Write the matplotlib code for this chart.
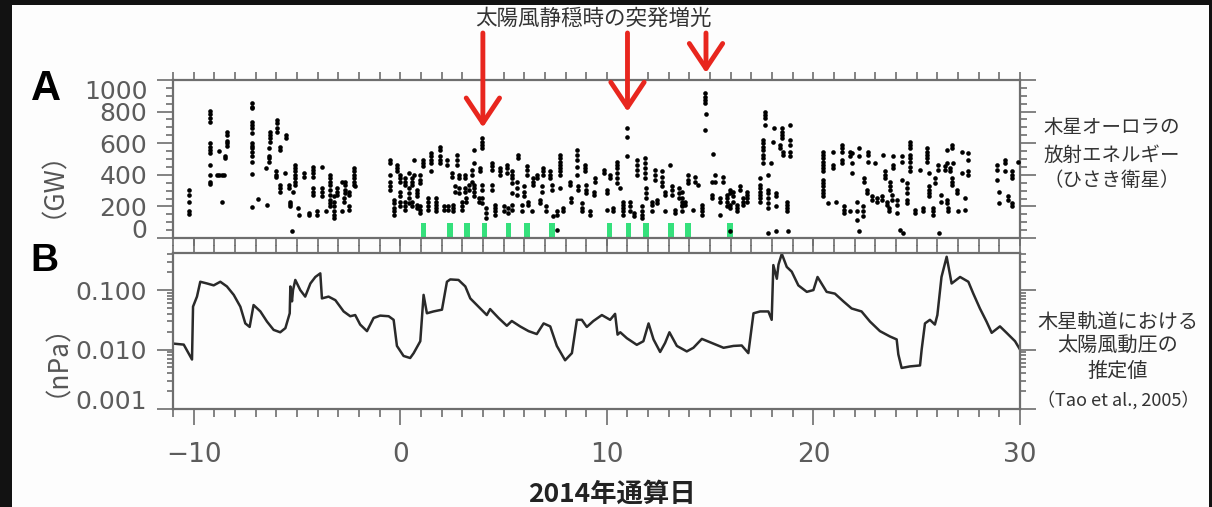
import matplotlib
matplotlib.use('Agg')
import matplotlib.pyplot as plt
import numpy as np
from matplotlib.patches import Rectangle
from matplotlib.ticker import MultipleLocator, LogLocator, NullFormatter

# ---------------- data ----------------
# Panel A: Jupiter aurora radiated power (GW), grouped as columns (day, values)
aurora_col_days = [
    -10.21, -9.19, -8.85, -8.75, -8.65, -8.55, -8.79, -8.63, -8.5, -8.4,
    -7.18, -7.2, -6.9, -6.5, -6.47, -6.35, -6.29, -6.0, -5.97, -5.8,
    -5.6, -5.52, -5.4, -5.36, -5.24, -5.2, -5.08, -4.97, -4.9, -4.68,
    -4.43, -4.22, -4.03, -3.8, -3.78, -3.6, -3.39, -3.23, -3.06, -2.82,
    -2.74, -2.66, -2.5, -2.26, -2.2,
    -0.52, -0.32, -0.16, -0.03, 0.0, 0.24, 0.4, 0.57, 0.68, 0.81,
    0.97, 1.1, 1.32, 1.48, 1.74, 1.94, 2.1, 2.26, 2.3, 2.5,
    2.55, 2.66, 2.74, 2.82, 2.98, 3.14, 3.2, 3.35, 3.47, 3.58,
    3.79, 3.87, 3.95, 4.16, 4.44, 4.6, 4.84, 5.0, 5.16, 5.2,
    5.4, 5.65, 5.69, 5.89, 5.97, 6.13, 6.2, 6.37, 6.45, 6.6,
    6.77, 6.85, 6.93, 7.06, 7.26, 7.35, 7.4, 7.58, 7.71, 7.9,
    8.2, 8.25, 8.55, 8.6, 8.79, 8.95, 9.0, 9.2, 9.36, 9.44,
    9.84, 10.0, 10.16, 10.32, 10.48, 10.64, 10.8, 10.97, 11.1, 11.3,
    11.45, 11.69, 11.85, 11.9, 12.18, 12.34, 12.42, 12.66, 12.82, 13.06,
    13.14, 13.3, 13.47, 13.63, 13.79, 13.95, 14.19, 14.27, 14.43, 14.6,
    14.76, 14.8, 15.1, 15.16, 15.24, 15.48, 15.64, 15.8, 15.97, 16.13,
    16.29, 16.45, 16.61, 16.77,
    17.42, 17.58, 17.66, 17.8, 17.82, 17.95, 18.06, 18.1, 18.2, 18.38,
    18.46, 18.55, 18.7, 18.78, 18.87,
    20.45, 20.48, 20.7, 20.97, 21.1, 21.37, 21.5, 21.77, 21.85, 22.1,
    22.2, 22.22, 22.4, 22.45, 22.58, 22.66, 22.84, 22.98, 23.06, 23.3,
    23.38, 23.47, 23.55, 23.67, 23.71, 23.79, 23.87, 24.03, 24.19, 24.27,
    24.35, 24.51, 24.68, 24.92, 25.16, 25.32, 25.51, 25.6, 25.77, 25.88,
    26.04, 26.1, 26.2, 26.37, 26.45, 26.53, 26.61, 26.69, 26.77, 26.93,
    27.0, 27.17, 27.33, 27.49,
    28.87, 29.0, 29.27, 29.43, 29.6, 29.9,
]
aurora_col_gw = [
    [305, 272, 231, 168, 152], [804, 783, 758, 736, 600, 579, 558, 537, 463, 400, 357, 341],
    [400], [400], [400], [400], [551], [227], [516, 505], [669, 652, 614, 600, 585],
    [853, 831, 821, 736, 716, 695, 663, 600, 585, 568, 543, 516, 484, 404], [196], [248], [442], [210],
    [568, 516, 505, 484], [673, 652, 632, 610], [421, 400, 389], [747, 726, 695, 673], [579, 558, 337, 316, 294],
    [410], [652, 632], [337, 316], [231, 215, 200], [42], [294], [463, 442, 421, 400, 379, 357, 337],
    [189], [147], [410, 389],
    [158, 147], [452, 431, 410, 389, 316, 294, 273], [168, 147], [452], [316, 294, 263], [168],
    [400, 379, 357, 337, 305, 273, 242, 221, 200], [263, 231, 200, 168, 147, 126], [316, 294, 273], [357, 168],
    [253, 231], [357, 337, 305, 284], [294, 273, 200, 179], [442, 421, 400, 379, 357, 337], [326],
    [495, 474, 400, 357, 326, 305], [242, 221, 189, 168, 147], [463, 442, 421], [400, 379, 357],
    [294, 263, 231, 200], [379, 357, 337, 231, 200, 179], [410, 316, 284, 253, 221], [379, 357, 337, 231, 200],
    [495, 400], [305, 284, 263, 210, 189],
    [400, 368, 347, 200, 179, 158], [495, 474, 453], [253, 231, 200, 179], [537, 516, 495, 474, 421],
    [253, 231, 210, 189, 168], [579, 558, 516, 495, 474], [200, 179], [495, 463], [200, 179], [410, 389],
    [210, 189, 168], [326, 294], [526, 495, 463], [400, 379, 316, 284], [231, 200, 179], [400, 379, 316, 294],
    [253, 231], [337, 305], [431, 400, 357], [558, 474, 337, 316, 294, 263],
    [253, 231], [442, 421], [632, 610, 589, 568, 337, 305, 253, 221], [189, 158, 126], [474, 453, 431, 337, 305],
    [210, 189, 168, 147], [442, 421, 400], [200, 168], [463, 442, 410], [189, 158],
    [421, 400, 379, 347, 284, 210, 179], [357, 316, 273], [526, 505], [210, 168], [326, 294, 263],
    [453, 431, 400], [231, 210], [168], [379, 357, 337], [400, 379],
    [242, 221], [326, 294], [442, 421, 400], [200, 168], [421, 400, 379], [337, 305], [137], [168, 147, 52],
    [526, 505, 484, 463, 442, 421, 400, 316], [189, 168],
    [357, 337], [253, 231], [558, 526, 495, 452, 400], [326, 305], [221, 189, 168], [463, 442, 421],
    [337, 305, 284], [168, 147], [294, 273], [379, 357],
    [431, 410], [305, 284, 179], [400, 379], [189, 168], [484, 463, 442, 410, 379, 347], [316],
    [231, 210, 189, 168, 147], [695, 642, 516], [231, 200, 168], [158, 137],
    [495, 463, 431, 400], [200, 168, 147, 126], [505, 474, 442, 410, 379], [316, 284, 253], [231, 210, 168],
    [431, 400, 368], [242, 221], [421, 389, 357, 326], [294, 273, 168], [463],
    [326, 305, 273], [179, 158], [316, 284, 253], [294, 253, 231, 210, 200, 168], [231, 210], [400, 368, 347],
    [179], [389, 357], [337], [210, 189, 168, 147],
    [916, 894, 873, 853, 684], [783], [357, 273, 253], [532], [400, 357], [253, 231, 147], [389, 357],
    [273, 253, 231, 200], [305, 284, 210, 189, 42], [294, 263, 231],
    [210, 189, 168], [326, 305], [253, 231, 210], [294, 273, 253, 231],
    [379, 337, 316, 294, 273, 253, 231], [621, 600, 579, 558, 526, 505, 474], [800, 779, 758, 716], [400, 32],
    [305, 284, 253, 221, 189], [474], [610], [695], [284, 263, 200, 42], [589, 568],
    [695, 674, 653, 632], [547, 526], [231, 210, 189, 168], [42], [716, 621, 589, 547, 516],
    [368, 347, 326, 305, 284, 263], [547, 526, 505, 484, 463, 442, 421], [221], [547, 463, 442], [231],
    [589, 568, 547, 495, 474], [200, 179, 158], [547, 516, 168], [537, 474, 410], [231, 168, 116],
    [568, 516], [42], [200, 168, 137], [379, 357], [305, 284], [547, 526, 484], [263, 242], [474], [253, 231], [263, 242],
    [526], [421, 400, 379], [231, 210], [189, 168], [357, 326, 305], [273, 242], [516, 463, 442], [242, 210, 158], [52],
    [516, 484, 368],
    [32], [347, 316, 284, 242, 221], [610, 589, 568, 526, 505, 484, 452, 421], [179, 158], [431], [189, 168],
    [568, 547, 526, 505, 484], [410, 326, 305, 284, 263], [189, 168, 147], [379, 347],
    [463, 431], [32], [273, 231], [453, 431], [558, 474, 242, 221], [189, 168], [442, 421],
    [589, 568, 379, 357, 337], [474], [305, 284],
    [168], [547, 410], [253, 179], [537, 495, 421, 400],
    [463, 431, 368], [294, 221], [495, 474, 421], [263, 242], [421, 400, 379, 221, 200], [482],
]

# Green markers (sudden brightening events) on panel A
event_days = [1.13, 2.39, 3.23, 4.08, 5.24, 6.13, 7.34, 10.13, 11.05, 11.89, 13.1, 13.92, 15.97]

# Red arrows: day and tip value (GW)
arrow_days = [4.0, 11.0, 14.8]
arrow_tip_gw = [700, 800, 1045]

# Panel B: estimated solar wind dynamic pressure at Jupiter (nPa)
sw_day = [
    -11.0, -10.48, -10.08, -10.03, -9.84, -9.68, -9.35, -9.03, -8.71, -8.39,
    -8.06, -7.74, -7.5, -7.29, -7.1, -6.77, -6.45, -6.13, -5.81, -5.56,
    -5.35, -5.32, -5.24, -5.19, -5.08, -4.84, -4.6, -4.35, -4.11, -3.87,
    -3.79, -3.47, -3.14, -2.74, -2.42, -2.18, -1.94, -1.61, -1.29, -0.97,
    -0.56, -0.32, -0.16, 0.16, 0.48, 0.65, 0.97, 1.13, 1.29, 1.61,
    2.02, 2.26, 2.42, 2.82, 3.15, 3.39, 3.87, 4.19, 4.35, 4.76,
    5.16, 5.4, 5.8, 6.21, 6.61, 6.94, 7.26, 7.58, 7.98, 8.31,
    8.55, 8.79, 9.03, 9.35, 9.76, 10.16, 10.4, 10.52, 10.65, 10.97,
    11.45, 11.77, 12.02, 12.26, 12.58, 12.82, 13.03, 13.39, 13.87, 14.19,
    14.6, 15.08, 15.65, 16.13, 16.53, 16.85, 17.1, 17.42, 17.82, 17.98,
    18.06, 18.23, 18.31, 18.47, 18.71, 18.95, 19.27, 19.68, 20.0, 20.2,
    20.64, 21.04, 21.45, 21.85, 22.33, 22.74, 23.22, 23.7, 24.03, 24.11,
    24.27, 24.67, 25.16, 25.24, 25.4, 25.64, 25.88, 26.0, 26.2, 26.45,
    26.69, 27.1, 27.5, 27.74, 28.06, 28.38, 28.63, 29.03, 29.35, 29.76,
    30.0,
]
sw_npa = [
    0.0126, 0.0121, 0.0068, 0.0527, 0.0776, 0.138, 0.129, 0.120, 0.138, 0.115,
    0.083, 0.0525, 0.0275, 0.024, 0.056, 0.0437, 0.0295, 0.0214, 0.0195, 0.0229,
    0.0407, 0.115, 0.0646, 0.100, 0.148, 0.100, 0.0776, 0.129, 0.166, 0.191,
    0.0724, 0.0776, 0.0676, 0.0437, 0.0363, 0.038, 0.0263, 0.0204, 0.0339, 0.0372,
    0.0363, 0.0316, 0.0115, 0.0078, 0.0072, 0.0087, 0.0138, 0.083, 0.0407, 0.0437,
    0.0468, 0.138, 0.151, 0.148, 0.115, 0.0724, 0.049, 0.038, 0.0479, 0.0339,
    0.0251, 0.0302, 0.0245, 0.0204, 0.0182, 0.0275, 0.0245, 0.0115, 0.0066, 0.0087,
    0.0316, 0.0316, 0.024, 0.0302, 0.038, 0.0316, 0.0398, 0.0178, 0.0195, 0.0155,
    0.012, 0.0138, 0.0275, 0.0148, 0.0091, 0.0129, 0.0195, 0.0115, 0.0093, 0.0107,
    0.0151, 0.0129, 0.0107, 0.0115, 0.0117, 0.0087, 0.0407, 0.0437, 0.0437, 0.0316,
    0.263, 0.155, 0.269, 0.407, 0.245, 0.204, 0.120, 0.0933, 0.100, 0.166,
    0.0933, 0.0871, 0.0646, 0.049, 0.0437, 0.0295, 0.0204, 0.0166, 0.0148, 0.0083,
    0.0049, 0.0052, 0.0054, 0.010, 0.0275, 0.0316, 0.0263, 0.038, 0.166, 0.363,
    0.129, 0.166, 0.138, 0.0871, 0.049, 0.0295, 0.0191, 0.0245, 0.0191, 0.0138,
    0.010,
]

gw_ticks = [0, 200, 400, 600, 800, 1000]
gw_ticklabels = ['0', '200', '400', '600', '800', '1000']
npa_ticks = [0.001, 0.01, 0.1]
npa_ticklabels = ['0.001', '0.010', '0.100']
day_ticks = [-10, 0, 10, 20, 30]
day_ticklabels = ['\u221210', '0', '10', '20', '30']

# ---------------- figure ----------------
W, H = 1212, 507
fig = plt.figure(figsize=(W / 100, H / 100), dpi=100, facecolor='#121212')
fig.add_artist(Rectangle((12 / W, 0), (1209 - 12) / W, 1 - 5 / H, transform=fig.transFigure,
                         facecolor='#fdfdfd', edgecolor='none', zorder=-5))

def fx(px):
    return px / W

def fy(py):
    return 1 - py / H

axA = fig.add_axes([fx(173), fy(238), (1020 - 173) / W, (238 - 80) / H])
axB = fig.add_axes([fx(173), fy(409), (1020 - 173) / W, (409 - 253) / H])

spine_col = '#6e6e6e'
tick_col = '#5c5c5c'
for ax in (axA, axB):
    ax.set_facecolor('none')
    for s in ax.spines.values():
        s.set_color(spine_col)
        s.set_linewidth(1.6)
    ax.set_xlim(-11, 30)
    ax.xaxis.set_major_locator(MultipleLocator(10))
    ax.xaxis.set_minor_locator(MultipleLocator(1))
    ax.tick_params(which='both', direction='out', top=True, right=True,
                   color=spine_col, width=1.2, labelcolor=tick_col, labelsize=18)

# Panel A
xs, ys = [], []
for d, vals in zip(aurora_col_days, aurora_col_gw):
    for v in vals:
        xs.append(d)
        ys.append(v)
axA.bar(event_days, 88, bottom=6, width=0.28, color='#35e07c', zorder=2)
axA.scatter(xs, ys, s=11, c='black', linewidths=0, zorder=4)
axA.set_ylim(0, 1000)
axA.set_yticks(gw_ticks, gw_ticklabels)
axA.yaxis.set_minor_locator(MultipleLocator(50))
axA.tick_params(axis='x', which='both', length=5.5, labelbottom=False)
axA.tick_params(axis='y', which='major', length=11.5, pad=7)
axA.tick_params(axis='y', which='minor', length=5)
labs = axA.get_yticklabels()
labs[0].set_va('baseline')
labs[-1].set_va('top')

for d, g in zip(arrow_days, arrow_tip_gw):
    axA.annotate('', xy=(d, g), xycoords='data', xytext=(d, 474),
                 textcoords=('data', 'figure pixels'),
                 arrowprops=dict(arrowstyle='->,head_length=0.6,head_width=0.4',
                                 color='#e8261e', lw=3.5, mutation_scale=30,
                                 shrinkA=0, shrinkB=0),
                 annotation_clip=False)

# Panel B
axB.plot(sw_day, sw_npa, color='#2a2a2a', lw=1.8)
axB.set_yscale('log')
axB.set_ylim(0.001, 0.42)
axB.set_yticks(npa_ticks, npa_ticklabels)
axB.yaxis.set_minor_locator(LogLocator(base=10, subs=np.arange(2, 10)))
axB.yaxis.set_minor_formatter(NullFormatter())
axB.set_xticks(day_ticks, day_ticklabels)
axB.tick_params(axis='x', which='major', length=11.5, pad=12, labelsize=19)
axB.tick_params(axis='x', which='minor', length=5.5)
axB.tick_params(axis='y', which='major', length=11.5, pad=7)
axB.tick_params(axis='y', which='minor', length=4)
labsB = axB.get_yticklabels()
labsB[0].set_va('baseline')

# Texts
cjk = ['Noto Sans CJK JP', 'DejaVu Sans']
fig.text(fx(46), fy(89), 'A', ha='center', va='center', fontsize=30, weight='bold',
         family='Liberation Sans', color='black')
fig.text(fx(44), fy(261), 'B', ha='center', va='center', fontsize=28, weight='bold',
         family='Liberation Sans', color='black')
fig.text(fx(40), fy(171), '（GW）', rotation=90, ha='center', va='center', fontsize=19,
         color='#555555', family=cjk)
fig.text(fx(44), fy(347), '（nPa）', rotation=90, ha='center', va='center', fontsize=19,
         color='#555555', family=cjk)
fig.text(fx(593), fy(18.5), '太陽風静穏時の突発増光', ha='center', va='center', fontsize=15.5,
         color='#333333', family=cjk)
for t, y in zip(['木星オーロラの', '放射エネルギー', '（ひさき衛星）'], [127.5, 155, 180]):
    fig.text(fx(1112), fy(y), t, ha='center', va='center', fontsize=14, color='#333333', family=cjk)
for t, y, s in zip(['木星軌道における', '太陽風動圧の', '推定値', '（Tao et al., 2005）'],
                   [322, 346, 371, 400], [14.5, 14.5, 14.5, 13]):
    fig.text(fx(1118), fy(y), t, ha='center', va='center', fontsize=s, color='#333333', family=cjk)
fig.text(fx(612), fy(494), '2014年通算日', ha='center', va='center', fontsize=19,
         weight='bold', color='#222222', family=cjk)

fig.savefig('out.png', dpi=100, facecolor=fig.get_facecolor())
